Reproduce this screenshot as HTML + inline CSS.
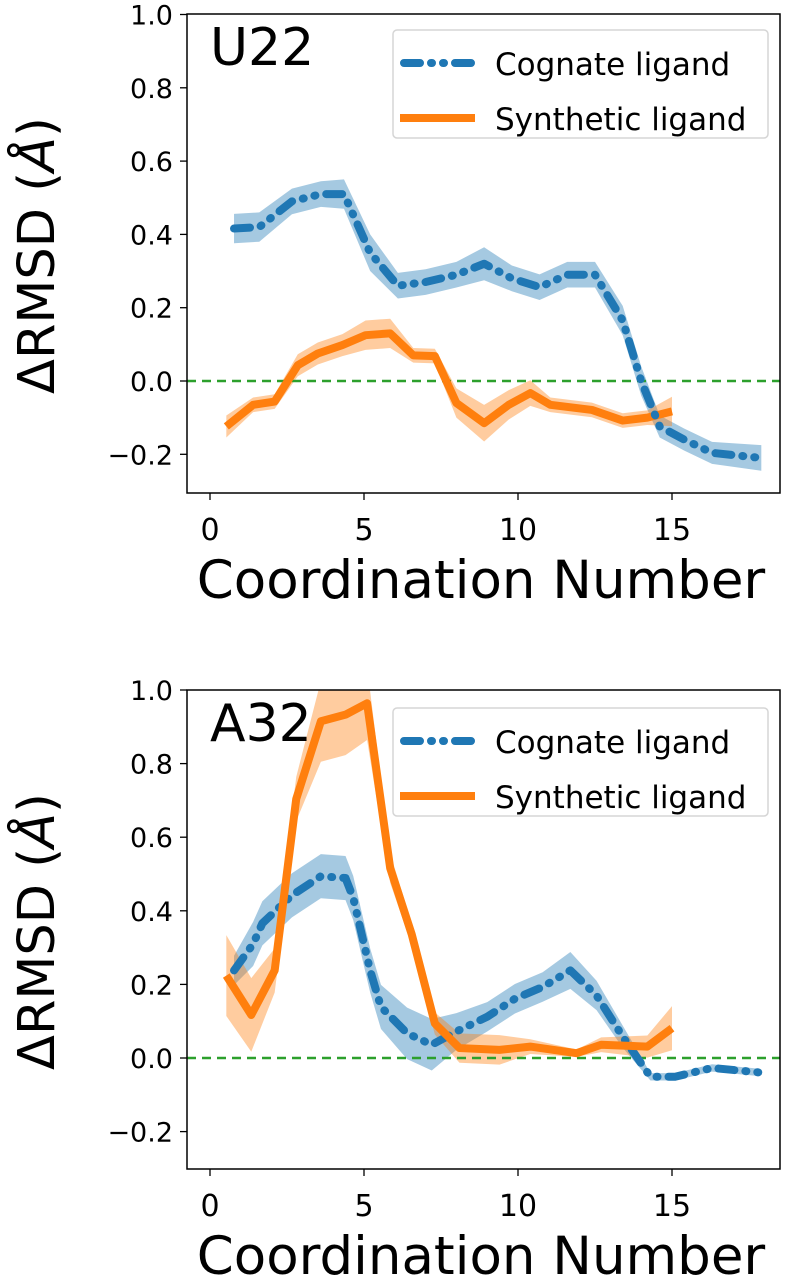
<!DOCTYPE html>
<html><head><meta charset="utf-8">
<style>
body{margin:0;background:#fff;}
svg{display:block;font-family:"DejaVu Sans","Liberation Sans",sans-serif;}
</style></head>
<body>
<svg id="fig" width="785" height="1280" viewBox="0 0 785 1280" xmlns="http://www.w3.org/2000/svg"></svg>
<script>
// ---- data: panel U22 ----
const u22CogX = [0.78,1.6,2.66,3.6,4.35,5.2,6.1,7.0,8.0,8.9,9.8,10.7,11.6,12.5,13.4,14.0,14.6,15.4,16.3,17.9];
const u22CogY = [0.416,0.42,0.49,0.51,0.51,0.35,0.26,0.27,0.29,0.32,0.28,0.256,0.29,0.29,0.165,0.0,-0.124,-0.16,-0.196,-0.21];
const u22CogErr = [0.04,0.04,0.035,0.035,0.04,0.05,0.035,0.035,0.035,0.045,0.035,0.035,0.035,0.035,0.04,0.04,0.03,0.03,0.03,0.035];
const u22SynX = [0.53,1.4,2.1,2.85,3.5,4.3,5.05,5.85,6.6,7.3,8.0,8.9,9.7,10.4,11.05,12.4,13.4,14.2,15.0];
const u22SynY = [-0.124,-0.065,-0.056,0.043,0.075,0.098,0.125,0.13,0.07,0.068,-0.06,-0.115,-0.065,-0.033,-0.065,-0.079,-0.108,-0.1,-0.083];
const u22SynErr = [0.03,0.02,0.02,0.03,0.03,0.03,0.04,0.04,0.02,0.02,0.04,0.05,0.04,0.035,0.02,0.02,0.02,0.02,0.04];
// ---- data: panel A32 ----
const a32CogX = [0.78,1.4,1.7,2.66,3.6,4.4,4.65,5.2,5.55,6.4,7.2,8.0,9.0,9.9,10.8,11.7,12.55,13.4,14.3,15.1,16.3,17.8];
const a32CogY = [0.238,0.31,0.366,0.442,0.494,0.489,0.435,0.238,0.139,0.067,0.036,0.072,0.112,0.161,0.193,0.238,0.17,0.058,-0.051,-0.051,-0.027,-0.039];
const a32CogErr = [0.04,0.06,0.06,0.06,0.06,0.06,0.06,0.06,0.06,0.07,0.07,0.05,0.04,0.04,0.04,0.05,0.04,0.03,0.01,0.01,0.01,0.01];
const a32SynX = [0.53,1.34,2.1,2.8,3.6,4.4,5.1,5.85,6.55,7.3,8.1,9.4,10.4,11.9,12.7,14.2,15.0];
const a32SynY = [0.224,0.117,0.238,0.704,0.915,0.933,0.964,0.516,0.336,0.094,0.027,0.022,0.031,0.013,0.036,0.031,0.081];
const a32SynErr = [0.11,0.1,0.06,0.06,0.11,0.11,0.1,0.04,0.03,0.03,0.04,0.04,0.02,0.01,0.02,0.03,0.06];
const xTicks = [0,5,10,15];
const yTicks = [-0.2,0,0.2,0.4,0.6,0.8,1.0];
const yTickLabels = ["\u22120.2","0.0","0.2","0.4","0.6","0.8","1.0"];

const NS="http://www.w3.org/2000/svg";
const svg=document.getElementById('fig');
const DASH='16 11 1 11 1 11';
function mk(tag,attrs,parent){const e=document.createElementNS(NS,tag);for(const k in attrs)e.setAttribute(k,attrs[k]);(parent||svg).appendChild(e);return e;}

function panel(p){
  const g=mk('g',{});
  
  
  const L=187,R=780,T=p.top,B=p.top+479;
  const xs=v=>210+v*30.8;
  const ys=v=>p.zeroY-v*p.scale;
  const clipId='clip'+p.id;
  const cp=mk('clipPath',{id:clipId},g);mk('rect',{x:L,y:T,width:R-L,height:B-T},cp);
  const plot=mk('g',{'clip-path':'url(#'+clipId+')'},g);
  function band(X,Y,E,color,name){
    let d='M'+X.map((x,i)=>xs(x)+','+ys(Y[i]+E[i])).join('L');
    for(let i=X.length-1;i>=0;i--)d+='L'+xs(X[i])+','+ys(Y[i]-E[i]);
    const e=mk('path',{d:d+'Z',fill:color,'fill-opacity':0.4,stroke:'none'},plot);
    
    
  }
  function line(X,Y,color,dash,name){
    const d='M'+X.map((x,i)=>xs(x)+','+ys(Y[i])).join('L');
    const a={d:d,fill:'none',stroke:color,'stroke-width':8,'stroke-linejoin':'round'};
    if(dash){a['stroke-dasharray']=dash;a['stroke-linecap']='round';}
    const e=mk('path',a,plot);
    
    
  }
  band(p.cx,p.cy,p.ce,'#1f77b4','cognate-band');
  band(p.sx,p.sy,p.se,'#ff7f0e','synthetic-band');
  const z=mk('line',{x1:L,x2:R,y1:ys(0),y2:ys(0),stroke:'#2ca02c','stroke-width':2.5,'stroke-dasharray':'9 6'},plot);
  
  
  if(p.synFirst){line(p.cx,p.cy,'#1f77b4',DASH,'cognate-line');line(p.sx,p.sy,'#ff7f0e',null,'synthetic-line');}
  else{line(p.sx,p.sy,'#ff7f0e',null,'synthetic-line');line(p.cx,p.cy,'#1f77b4',DASH,'cognate-line');}
  const fr=mk('rect',{x:L,y:T,width:R-L,height:B-T,fill:'none',stroke:'#000','stroke-width':1.5},g);
  
  
  xTicks.forEach(v=>{
    mk('line',{x1:xs(v),x2:xs(v),y1:B,y2:B+7,stroke:'#000','stroke-width':1.3},g);
    const t=mk('text',{x:xs(v),y:B+47,'font-size':30,'text-anchor':'middle',fill:'#000'},g);t.textContent=v;
    
    
  });
  yTicks.forEach((v,i)=>{
    mk('line',{x1:L-7,x2:L,y1:ys(v),y2:ys(v),stroke:'#000','stroke-width':1.3},g);
    const t=mk('text',{x:L-14,y:ys(v)+10,'font-size':27,'text-anchor':'end',fill:'#000'},g);t.textContent=yTickLabels[i];
    
    
  });
  const xl=mk('text',{x:481,y:B+105,'font-size':53,'text-anchor':'middle',fill:'#000'},g);xl.textContent='Coordination Number';
  
  
  const yc=(T+B)/2+2;
  const yl=mk('text',{x:0,y:0,'font-size':51,'text-anchor':'middle',fill:'#000',transform:'translate(54,'+yc+') rotate(-90)'},g);
  yl.textContent='\u0394RMSD (';
  const it=mk('tspan',{'font-style':'italic'},yl);it.textContent='\u00c5';
  const cl=mk('tspan',{},yl);cl.textContent=')';
  
  
  const pl=mk('text',{x:210,y:T+51,'font-size':52,fill:'#000'},g);pl.textContent=p.label;
  
  
  const lg=mk('g',{},g);
  
  
  const ly=T+p.legOff;
  mk('rect',{x:393,y:ly,width:375,height:108,rx:4,fill:'#fff','fill-opacity':0.85,stroke:'#d5d5d5','stroke-width':1.5},lg);
  const e1=mk('g',{},lg);
  
  
  mk('line',{x1:404,x2:472,y1:ly+33,y2:ly+33,stroke:'#1f77b4','stroke-width':8,'stroke-linecap':'round','stroke-dasharray':DASH},e1);
  const t1=mk('text',{x:495,y:ly+45,'font-size':31,fill:'#000'},e1);t1.textContent='Cognate ligand';
  const e2=mk('g',{},lg);
  
  
  mk('line',{x1:400,x2:475,y1:ly+88,y2:ly+88,stroke:'#ff7f0e','stroke-width':8},e2);
  const t2=mk('text',{x:495,y:ly+100,'font-size':31,fill:'#000'},e2);t2.textContent='Synthetic ligand';
}
panel({id:1,name:'panel-u22',label:'U22',top:14,zeroY:381,scale:366.5,legOff:16,synFirst:false,
  cx:u22CogX,cy:u22CogY,ce:u22CogErr,sx:u22SynX,sy:u22SynY,se:u22SynErr});
panel({id:2,name:'panel-a32',label:'A32',top:690,zeroY:1058,scale:368,legOff:18,synFirst:true,
  cx:a32CogX,cy:a32CogY,ce:a32CogErr,sx:a32SynX,sy:a32SynY,se:a32SynErr});
</script>
</body></html>
